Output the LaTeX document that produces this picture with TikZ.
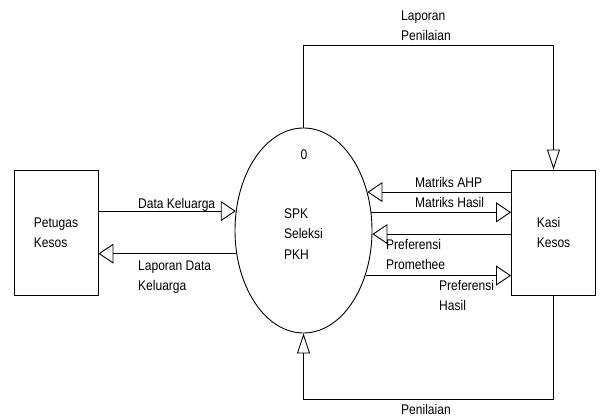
\documentclass[tikz,border=0pt]{standalone}
\usepackage{fontspec}
\setmainfont{Liberation Sans}[FakeStretch=0.86]
\usetikzlibrary{arrows.meta,shapes.geometric}
\begin{document}
\begin{tikzpicture}[x=1pt,y=-1pt,
  font=\fontsize{14}{20}\selectfont,
  box/.style={draw, line width=0.9pt, minimum width=84pt, minimum height=125pt, align=left, inner sep=0pt},
  proc/.style={draw, ellipse, line width=0.9pt, minimum width=137pt, minimum height=205pt, inner sep=0pt},
  flow/.style={line width=0.9pt, -{Triangle[open, length=15pt, width=20pt]}},
  vflow/.style={line width=0.9pt, -{Triangle[open, length=20pt, width=13pt]}},
  lbl/.style={anchor=base west, align=left, inner sep=0pt}]
\useasboundingbox (0,0) rectangle (602,417);
\node[proc] (spk) at (303.5,230.5) {};
\node[box] (pet) at (56,232.5) {Petugas\\Kesos};
\node[box] (kasi) at (553.5,232.5) {Kasi\\Kesos};
\node (zero) at (304,155) {0};
\node[align=left, inner sep=0pt, font=\fontsize{14}{20.5}\selectfont] (spktxt) at (303.5,234) {SPK\\Seleksi\\PKH};
\coordinate (ytop) at (0,45);
\coordinate (ybot) at (0,399);
% left flows
\draw[flow] (pet.east |- spk.164.65) -- (spk.164.65);
\draw[flow] (spk.199.4) -- (spk.199.4 -| pet.east);
% right flows
\draw[flow] (kasi.west |- spk.31.2) -- (spk.31.2);
\draw[flow] (spk.15.35) -- (spk.15.35 -| kasi.west);
\draw[flow] (kasi.west |- spk.357.9) -- (spk.357.9);
\draw[flow] (spk.324.2) -- (spk.324.2 -| kasi.west);
% top and bottom
\draw[vflow] (spk.north) -- (spk.north |- ytop) -| (kasi.north);
\draw[vflow] (kasi.south) -- (kasi.south |- ybot) -| (spk.south);
% labels (base = baseline of the last line)
\node[lbl] (l1) at (138,208) {Data Keluarga};
\node[lbl] (l2) at (138,290) {Laporan Data\\Keluarga};
\node[lbl] (l3) at (415,187) {Matriks AHP};
\node[lbl] (l4) at (415,207) {Matriks Hasil};
\node[lbl] (l5) at (386,269.5) {Preferensi\\Promethee};
\node[lbl] (l6) at (439,310) {Preferensi\\Hasil};
\node[lbl] (l7) at (401,41) {Laporan\\Penilaian};
\node[lbl] (l8) at (401,414) {Penilaian};
\end{tikzpicture}
\end{document}
